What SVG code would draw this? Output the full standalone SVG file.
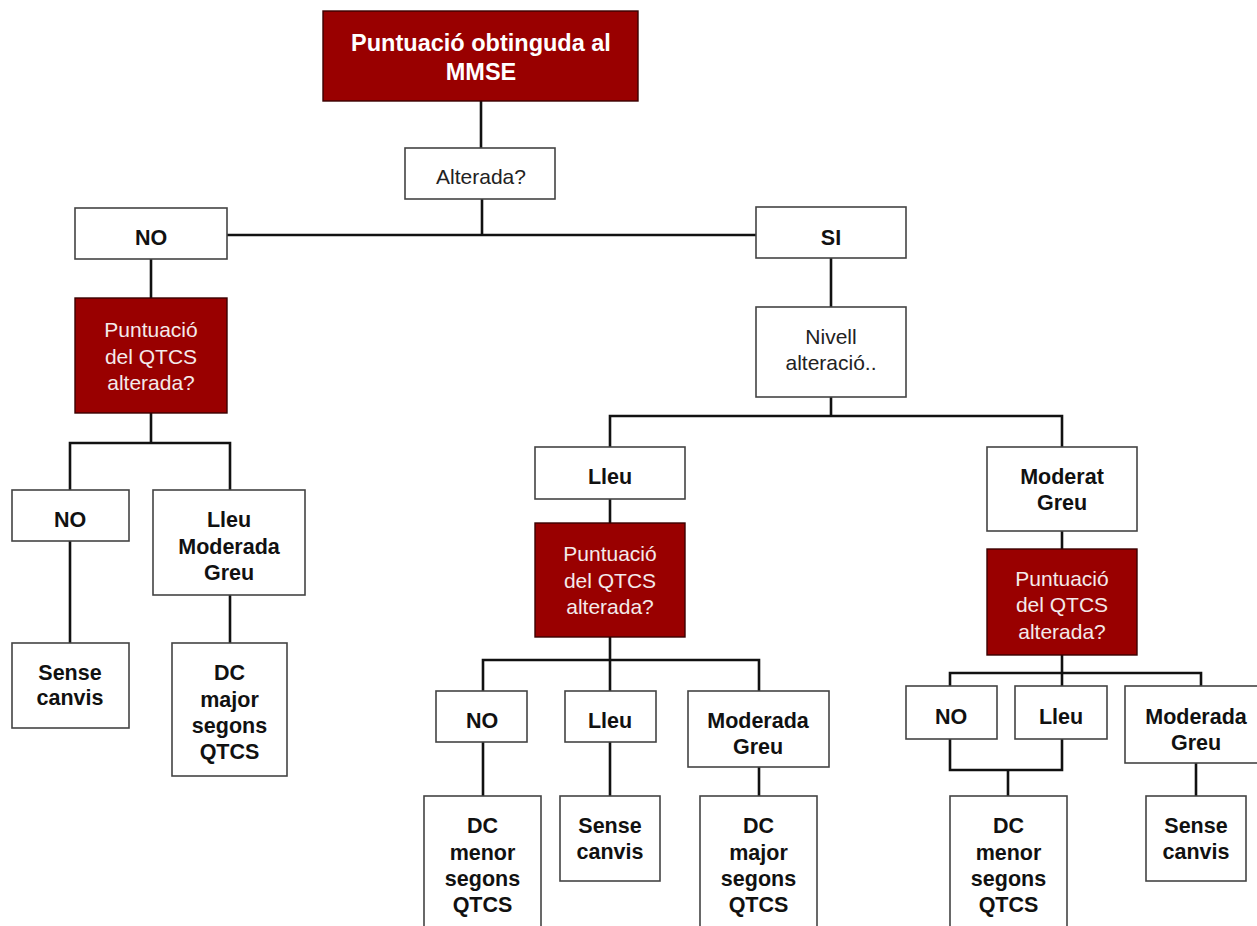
<svg xmlns="http://www.w3.org/2000/svg" width="1257" height="926" viewBox="0 0 1257 926">
<style>
.box{fill:#ffffff;stroke:#444444;stroke-width:1.6}
.red{fill:#990000;stroke:#3a0000;stroke-width:1.4}
.b{font-family:"Liberation Sans",Arial,sans-serif;font-size:21.5px;font-weight:bold;fill:#111111;text-anchor:middle}
.n{font-family:"Liberation Sans",Arial,sans-serif;font-size:21px;fill:#222222;text-anchor:middle}
.w{font-family:"Liberation Sans",Arial,sans-serif;font-size:21px;fill:#f4eaea;text-anchor:middle}
.t{font-family:"Liberation Sans",Arial,sans-serif;font-size:23.5px;font-weight:bold;fill:#ffffff;text-anchor:middle}
.c{fill:none;stroke:#111111;stroke-width:2.6}
</style>
<rect width="1257" height="926" fill="#ffffff"/>
<g id="connectors">
<path class="c" d="M481,101 V148"/>
<path class="c" d="M482,199 V236"/>
<path class="c" d="M227,235 H756"/>
<path class="c" d="M151,259 V298"/>
<path class="c" d="M151,413 V443 M70,490 V443 H230 V490"/>
<path class="c" d="M70,541 V643"/>
<path class="c" d="M230,595 V643"/>
<path class="c" d="M831,258 V307"/>
<path class="c" d="M831,397 V416 M610,447 V416 H1062 V447"/>
<path class="c" d="M610,499 V523"/>
<path class="c" d="M1062,531 V549"/>
<path class="c" d="M610,637 V691 M483,691 V660 H759 V691"/>
<path class="c" d="M483,742 V796"/>
<path class="c" d="M610,742 V796"/>
<path class="c" d="M759,767 V796"/>
<path class="c" d="M1062,655 V686 M950,686 V673 H1201 V686"/>
<path class="c" d="M950,739 V770 H1062 V739 M1008,770 V796"/>
<path class="c" d="M1196,763 V796"/>
</g>
<g id="n-mmse"><rect class="red" x="323" y="11" width="315" height="90"/><text class="t" x="481" y="51">Puntuació obtinguda al</text><text class="t" x="481" y="80">MMSE</text></g>
<g id="n-alterada"><rect class="box" x="405" y="148" width="150" height="51"/><text class="n" x="481" y="184">Alterada?</text></g>
<g id="n-no"><rect class="box" x="75" y="208" width="152" height="51"/><text class="b" x="151" y="245">NO</text></g>
<g id="n-si"><rect class="box" x="756" y="207" width="150" height="51"/><text class="b" x="831" y="245">SI</text></g>
<g id="n-qtcs1"><rect class="red" x="75" y="298" width="152" height="115"/><text class="w" x="151" y="337">Puntuació</text><text class="w" x="151" y="364">del QTCS</text><text class="w" x="151" y="390">alterada?</text></g>
<g id="n-no1"><rect class="box" x="12" y="490" width="117" height="51"/><text class="b" x="70" y="527">NO</text></g>
<g id="n-lmg1"><rect class="box" x="153" y="490" width="152" height="105"/><text class="b" x="229" y="527">Lleu</text><text class="b" x="229" y="554">Moderada</text><text class="b" x="229" y="580">Greu</text></g>
<g id="n-sc1"><rect class="box" x="12" y="643" width="117" height="85"/><text class="b" x="70" y="680">Sense</text><text class="b" x="70" y="705">canvis</text></g>
<g id="n-dcmaj1"><rect class="box" x="172" y="643" width="115" height="133"/><text class="b" x="229.5" y="680">DC</text><text class="b" x="229.5" y="707">major</text><text class="b" x="229.5" y="733">segons</text><text class="b" x="229.5" y="759">QTCS</text></g>
<g id="n-nivell"><rect class="box" x="756" y="307" width="150" height="90"/><text class="n" x="831" y="344">Nivell</text><text class="n" x="831" y="370">alteració..</text></g>
<g id="n-lleu"><rect class="box" x="535" y="447" width="150" height="52"/><text class="b" x="610" y="484">Lleu</text></g>
<g id="n-modgreu"><rect class="box" x="987" y="447" width="150" height="84"/><text class="b" x="1062" y="484">Moderat</text><text class="b" x="1062" y="510">Greu</text></g>
<g id="n-qtcs2"><rect class="red" x="535" y="523" width="150" height="114"/><text class="w" x="610" y="561">Puntuació</text><text class="w" x="610" y="588">del QTCS</text><text class="w" x="610" y="614">alterada?</text></g>
<g id="n-qtcs3"><rect class="red" x="987" y="549" width="150" height="106"/><text class="w" x="1062" y="586">Puntuació</text><text class="w" x="1062" y="612">del QTCS</text><text class="w" x="1062" y="639">alterada?</text></g>
<g id="n-no2"><rect class="box" x="436" y="691" width="91" height="51"/><text class="b" x="482" y="728">NO</text></g>
<g id="n-lleu2"><rect class="box" x="565" y="691" width="91" height="51"/><text class="b" x="610" y="728">Lleu</text></g>
<g id="n-mg2"><rect class="box" x="688" y="691" width="141" height="76"/><text class="b" x="758" y="728">Moderada</text><text class="b" x="758" y="754">Greu</text></g>
<g id="n-dcmen2"><rect class="box" x="424" y="796" width="117" height="140"/><text class="b" x="482.5" y="833">DC</text><text class="b" x="482.5" y="860">menor</text><text class="b" x="482.5" y="886">segons</text><text class="b" x="482.5" y="912">QTCS</text></g>
<g id="n-sc2"><rect class="box" x="560" y="796" width="100" height="85"/><text class="b" x="610" y="833">Sense</text><text class="b" x="610" y="859">canvis</text></g>
<g id="n-dcmaj2"><rect class="box" x="700" y="796" width="117" height="140"/><text class="b" x="758.5" y="833">DC</text><text class="b" x="758.5" y="860">major</text><text class="b" x="758.5" y="886">segons</text><text class="b" x="758.5" y="912">QTCS</text></g>
<g id="n-no3"><rect class="box" x="906" y="686" width="91" height="53"/><text class="b" x="951" y="724">NO</text></g>
<g id="n-lleu3"><rect class="box" x="1015" y="686" width="92" height="53"/><text class="b" x="1061" y="724">Lleu</text></g>
<g id="n-mg3"><rect class="box" x="1125" y="686" width="142" height="77"/><text class="b" x="1196" y="724">Moderada</text><text class="b" x="1196" y="750">Greu</text></g>
<g id="n-dcmen3"><rect class="box" x="950" y="796" width="117" height="140"/><text class="b" x="1008.5" y="833">DC</text><text class="b" x="1008.5" y="860">menor</text><text class="b" x="1008.5" y="886">segons</text><text class="b" x="1008.5" y="912">QTCS</text></g>
<g id="n-sc3"><rect class="box" x="1146" y="796" width="100" height="85"/><text class="b" x="1196" y="833">Sense</text><text class="b" x="1196" y="859">canvis</text></g>
</svg>
